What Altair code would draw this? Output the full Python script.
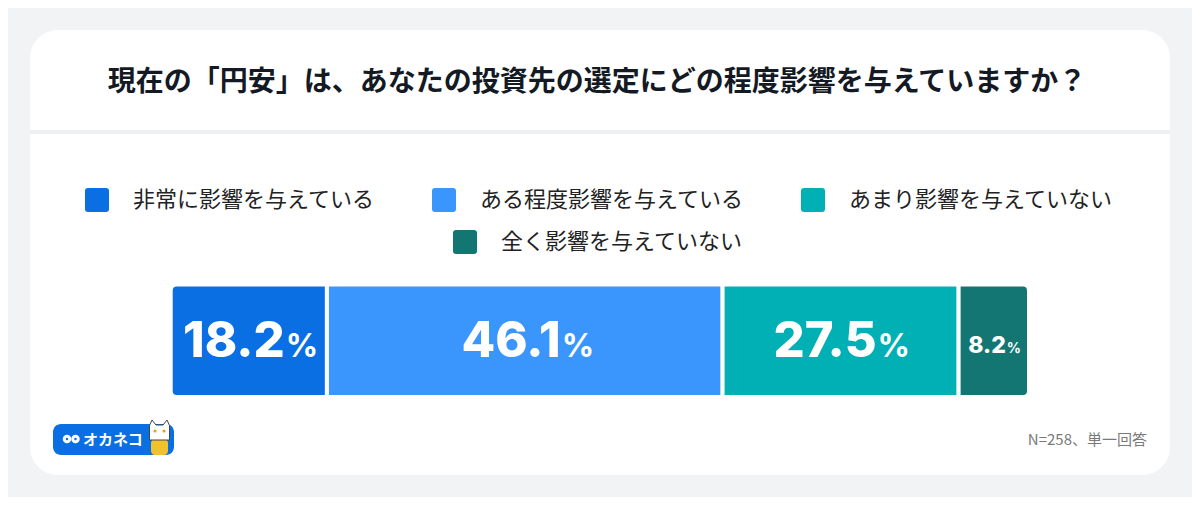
import altair as alt
import pandas as pd

# ---- data ----
title_text = "現在の「円安」は、あなたの投資先の選定にどの程度影響を与えていますか？"
categories = ["非常に影響を与えている", "ある程度影響を与えている", "あまり影響を与えていない", "全く影響を与えていない"]
values = [18.2, 46.1, 27.5, 8.2]
colors = ["#0a6fe2", "#3a96fc", "#00b0b4", "#137672"]
note_text = "N=258、単一回答"
brand_text = "オカネコ"

JP = "Noto Sans CJK JP"
NUM = "Inter"

df = pd.DataFrame({"cat": categories, "value": values, "order": list(range(len(values)))})
one = pd.DataFrame({"k": [0]})

xs = alt.Scale(domain=[0, 100], range=[162.7, 1021])

sym = "M-0.75,-1H0.75Q1,-1 1,-0.75V0.75Q1,1 0.75,1H-0.75Q-1,1 -1,0.75V-0.75Q-1,-1 -0.75,-1Z"


def legend(x, y):
    return alt.Legend(
        title=None, orient="none", legendX=x, legendY=y, direction="horizontal",
        symbolType=sym, symbolSize=576, symbolStrokeWidth=0, symbolOpacity=1,
        labelFont=JP, labelFontSize=22, labelColor="#222222", labelOffset=24,
        columnPadding=56, padding=0, labelLimit=0,
    )


leg1 = legend(77, 180)
leg2 = legend(445, 222)

# ---- decorations ----
card = alt.Chart(one).mark_rect(cornerRadius=28, color="white").encode(
    x=alt.value(22), x2=alt.value(1162), y=alt.value(22), y2=alt.value(467)
)
sep = alt.Chart(one).mark_rect(color="#eef0f2").encode(
    x=alt.value(22), x2=alt.value(1162), y=alt.value(122), y2=alt.value(126)
)
title = alt.Chart(pd.DataFrame({"t": [title_text]})).mark_text(
    font=JP, fontSize=28, fontWeight="bold", color="#141a24", align="center", baseline="middle"
).encode(text="t:N", x=alt.value(589), y=alt.value(75))

note = alt.Chart(pd.DataFrame({"t": [note_text]})).mark_text(
    font=JP, fontSize=15, color="#7a7a7a", align="right", baseline="middle"
).encode(text="t:N", x=alt.value(1139), y=alt.value(432))

logo_bg = alt.Chart(one).mark_rect(cornerRadius=8, color="#0a6fe2").encode(
    x=alt.value(45), x2=alt.value(166), y=alt.value(416), y2=alt.value(447)
)
logo_txt = alt.Chart(pd.DataFrame({"t": [brand_text]})).mark_text(
    font=JP, fontSize=15, fontWeight="bold", color="white", align="left", baseline="middle"
).encode(text="t:N", x=alt.value(75), y=alt.value(432))
logo_o1 = alt.Chart(one).mark_point(shape="circle", size=30, stroke="white", strokeWidth=3, filled=False, opacity=1).encode(
    x=alt.value(59), y=alt.value(431)
)
logo_o2 = alt.Chart(one).mark_point(shape="circle", size=30, stroke="white", strokeWidth=3, filled=False, opacity=1).encode(
    x=alt.value(67.5), y=alt.value(431)
)
cat_body = alt.Chart(one).mark_rect(cornerRadius=4, color="#f2c12e").encode(
    x=alt.value(143), x2=alt.value(160), y=alt.value(431), y2=alt.value(447)
)
cat_head = alt.Chart(one).mark_point(
    shape="M-1,1L-1,-0.45L-0.75,-1L-0.35,-0.5L0.35,-0.5L0.75,-1L1,-0.45L1,1Z",
    size=400, fill="white", stroke="#444444", strokeWidth=1, filled=True, opacity=1
).encode(x=alt.value(151.5), y=alt.value(422))
cat_eyes = alt.Chart(pd.DataFrame({"e": [0, 1]})).mark_point(
    shape="circle", size=10, fill="#e0a800", filled=True, opacity=1
).encode(x=alt.X("e:Q", scale=alt.Scale(domain=[0, 1], range=[147, 156]), axis=None), y=alt.value(423))

# ---- bars ----
base = alt.Chart(df).transform_stack(
    stack="value", groupby=[], as_=["x0", "x1"], sort=[alt.SortField("order", order="ascending")]
)

bar_first = base.transform_filter("datum.order == 0").mark_rect(
    cornerRadiusTopLeft=6, cornerRadiusBottomLeft=6, stroke="white", strokeWidth=4
).encode(
    x=alt.X("x0:Q", scale=xs, axis=None), x2="x1:Q",
    y=alt.value(276.5), y2=alt.value(389),
    color=alt.Color("cat:N", scale=alt.Scale(domain=categories[:3], range=colors[:3]), legend=leg1),
)
bar_mid = base.transform_filter("datum.order == 1 || datum.order == 2").mark_rect(
    stroke="white", strokeWidth=4
).encode(
    x=alt.X("x0:Q", scale=xs, axis=None), x2="x1:Q",
    y=alt.value(276.5), y2=alt.value(389),
    color=alt.Color("cat:N", scale=alt.Scale(domain=categories[:3], range=colors[:3]), legend=leg1),
)
bar_last = base.transform_filter("datum.order == 3").mark_rect(
    cornerRadiusTopRight=6, cornerRadiusBottomRight=6, stroke="white", strokeWidth=4
).encode(
    x=alt.X("x0:Q", scale=xs, axis=None), x2="x1:Q",
    y=alt.value(276.5), y2=alt.value(389),
    fill=alt.Fill("cat:N", scale=alt.Scale(domain=categories[3:], range=colors[3:]), legend=leg2),
)

lab = base.transform_calculate(
    mid="(datum.x0 + datum.x1) / 2", num="format(datum.value, '.1f')"
)
num_big = lab.transform_filter("datum.order < 3").mark_text(
    font=NUM, fontSize=49, fontWeight=800, color="white", align="right", baseline="alphabetic", dx=36
).encode(x=alt.X("mid:Q", scale=xs, axis=None), y=alt.value(348.7), text="num:N")
pct_big = lab.transform_filter("datum.order < 3").mark_text(
    font=NUM, fontSize=32, fontWeight="bold", color="white", align="left", baseline="alphabetic", dx=37
).encode(x=alt.X("mid:Q", scale=xs, axis=None), y=alt.value(348.7), text=alt.value("%"))
num_small = lab.transform_filter("datum.order == 3").mark_text(
    font=NUM, fontSize=23, fontWeight=800, color="white", align="right", baseline="alphabetic", dx=12
).encode(x=alt.X("mid:Q", scale=xs, axis=None), y=alt.value(344.5), text="num:N")
pct_small = lab.transform_filter("datum.order == 3").mark_text(
    font=NUM, fontSize=14, fontWeight="bold", color="white", align="left", baseline="alphabetic", dx=13
).encode(x=alt.X("mid:Q", scale=xs, axis=None), y=alt.value(344.5), text=alt.value("%"))

chart = alt.layer(
    card, sep, title, note, logo_bg, logo_txt, logo_o1, logo_o2, cat_body, cat_head, cat_eyes,
    bar_first, bar_mid, bar_last, num_big, pct_big, num_small, pct_small,
).resolve_scale(x="independent").properties(
    width=1184, height=489, padding=0,
    autosize=alt.AutoSizeParams(type="none"),
    background="#f2f3f5",
).configure_view(stroke=None)

chart.save("out.html", embed_options={"renderer": "svg", "actions": False})
